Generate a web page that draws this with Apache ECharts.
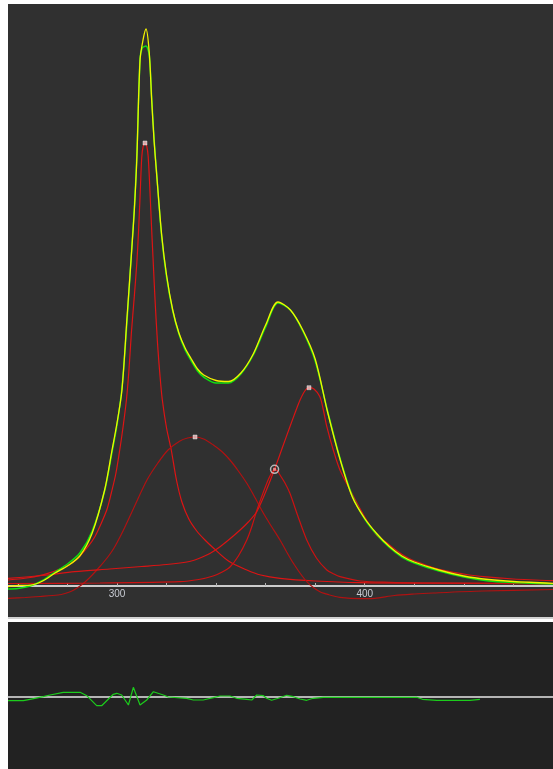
<!DOCTYPE html>
<html>
<head>
<meta charset="utf-8">
<script src="https://cdn.jsdelivr.net/npm/echarts@6/dist/echarts.min.js"></script>
<style>
  html, body { margin: 0; padding: 0; background: #ffffff; }
  #chart { width: 553px; height: 769px; }
</style>
</head>
<body>
<div id="chart"></div>
<script>
// Spectrum peak fit: measured trace, fitted sum, four components and residual.
// Points are [wavelength, intensity].

const tickValues = [260, 280, 300, 320, 340, 360, 380, 400, 420, 440, 460];
const labelValues = [300, 400];

const measured = [
  [256, -0.5], [260, 0.5], [265, 0.8], [270, 5], [275, 13], [280, 20], [285, 30],
  [290, 53], [295, 96], [298, 136], [300, 163], [302, 196], [304, 267], [306, 338],
  [307, 376], [308, 427], [309.3, 526], [310.5, 546], [311.7, 557], [313, 534],
  [314, 486], [315, 444], [316, 412], [318, 352], [320, 311], [322.5, 276],
  [325, 253], [327.5, 238], [330, 227], [332.5, 217], [335, 211], [340, 205.5],
  [345, 204.5], [350, 213], [355, 232], [360, 261], [365, 284], [370, 276], [375, 256],
  [380, 227], [385, 174], [390, 127], [395, 89], [400, 67.5], [405, 52], [410, 39.4],
  [415, 30], [420, 24], [430, 16], [440, 10], [450, 6.5], [460, 4.5], [476, 2.7]
];

const fitted = [
  [256, -3], [260, -2.5], [265, 0], [270, 5.5], [275, 14], [280, 22], [285, 33],
  [290, 55], [295, 95], [298, 134], [300, 161], [302, 198], [304, 263], [306, 340],
  [307, 378], [308, 430], [309.3, 527], [310.2, 538], [311.7, 540], [313, 531],
  [314, 488], [315, 446], [316, 413], [318, 350], [320, 309], [322.5, 275],
  [325, 252], [327.5, 236], [330, 225], [332.5, 215], [335, 209], [340, 203],
  [345, 203], [350, 212], [355, 231], [360, 259], [365, 283], [370, 276], [375, 255],
  [380, 225], [385, 175], [390, 128], [395, 90], [400, 67], [405, 51], [410, 38.5],
  [415, 29], [420, 23], [430, 15], [440, 9], [450, 5], [460, 3.5], [476, 2]
];

const peakA = [
  [256, 6], [265, 8.5], [272.1, 12.7], [277, 17], [281.6, 22.7], [285, 30], [288.3, 39.3],
  [291, 49], [293.7, 63], [296, 77], [297.7, 93], [299.5, 112], [301.1, 136],
  [302.5, 160], [303.8, 186], [304.8, 215], [305.8, 253], [307, 290], [308, 323],
  [308.7, 355], [309.3, 389], [310, 429], [310.6, 440], [311.3, 443], [312, 440],
  [312.6, 429], [313.3, 395], [314, 356], [314.7, 320], [315.3, 289], [316.3, 245],
  [317.4, 209], [318.3, 186], [320, 158], [321.9, 136], [324, 106], [326.2, 84],
  [329, 67], [332.2, 55], [335.5, 46], [338.9, 38], [345, 25], [352.4, 16], [358, 11],
  [365.8, 7.7], [380, 5], [398.1, 3.3], [430, 2.8], [476, 2.5]
];

const peakB = [
  [256, -12.3], [263, -11.5], [268.9, -10.5], [276.2, -9], [279, -7.5], [281.8, -5],
  [284.5, -1], [287.1, 4], [290, 11], [293.1, 19.5], [296, 28], [298.8, 38], [301, 48],
  [303.2, 59], [307.5, 82], [312.1, 106], [316.5, 123], [320.6, 136], [325.4, 145],
  [328.5, 148], [331.5, 149], [335, 147], [338.9, 141], [342.3, 134.5], [345.6, 126],
  [349, 115], [352.4, 102.7], [355.8, 88], [359.1, 72.7], [362.5, 59], [365.8, 46],
  [368.5, 34], [371.2, 22.7], [374, 12.5], [376.6, 4.3], [379, -1], [381.9, -5.7],
  [385.5, -8.7], [390, -11.3], [398.1, -12.7], [404, -12.3], [412, -9.5], [420, -8],
  [427.6, -7], [447.7, -5], [476, -3.5]
];

const peakC = [
  [256, 2.5], [293.1, 3], [325.4, 4.3], [333, 6.5], [338.8, 10], [342.5, 14],
  [345.6, 19], [349, 30], [352.4, 46], [354.5, 60], [356.5, 76], [358.8, 92],
  [361, 106], [362.4, 113], [363.6, 116.7], [364.8, 115], [365.8, 111], [367.8, 103],
  [369.8, 92.7], [373, 70], [376.6, 46], [380.5, 28], [384.7, 16], [387.5, 12],
  [390, 9.3], [398.1, 5], [410, 3.6], [422.3, 3], [476, 2]
];

const peakD = [
  [256, 7.7], [270, 10.5], [282.9, 14.3], [297, 17], [310, 19.5], [320, 21.5],
  [325.4, 23], [330, 25], [334, 28.5], [337.5, 32.5], [341.6, 39.3], [345.5, 47],
  [349.7, 56], [353, 64], [356.4, 74.3], [360, 94], [363.6, 116.7], [366.7, 138],
  [369.8, 159.3], [372, 174], [373.9, 186], [375.8, 195], [377.5, 198.3], [379.5, 197],
  [381.9, 189.3], [383.3, 176], [384.7, 159.3], [387.3, 136], [390, 116], [394.1, 96],
  [399.3, 72], [404.8, 51], [409.5, 42], [414.2, 33], [417.5, 28], [421, 24.3],
  [427.5, 18.5], [434.4, 14.3], [441, 11.5], [447.9, 9.3], [460, 7], [476, 5.3]
];

const peakTops = [[311.3, 443], [331.5, 149], [377.5, 198.3]];
const selectedTop = [[363.6, 116.7]];

const residual = [
  [256, -3.7], [262.2, -3.7], [264.9, -2.3], [270.2, 0.3], [273, 2], [278.3, 4.7],
  [285.1, 4.7], [287.8, 1.3], [291.8, -8.7], [293.8, -8.7], [298.5, 2.7], [299.9, 3.7],
  [301.9, 2], [304.6, -8], [306.6, 9.7], [309.3, -8], [312, -3], [314.7, 5.3],
  [318.7, 2], [320.7, 0], [328.1, -1.3], [330.8, -3], [334.8, -3], [338.9, -0.7],
  [341.6, 1], [345.6, 1], [348.3, -1.3], [352.4, -2.3], [354.4, -3], [356.4, 2],
  [359.1, 1.3], [360.4, -1.3], [362.4, -3.3], [365.1, -1.3], [368.5, 1.7], [371.2, 0.3],
  [373.9, -2], [376.6, -3.3], [379.2, -1.3], [383.3, -0.3], [421, -0.3], [423.3, -2.3],
  [429.1, -3.3], [442.5, -3.3], [446.5, -2.3]
];

const chart = echarts.init(document.getElementById('chart'), null, { renderer: 'canvas' });

function curve(name, data, color, width, z) {
  return {
    name: name, type: 'line', data: data, xAxisIndex: 0, yAxisIndex: 0,
    showSymbol: false, smooth: 0.3, z: z, silent: true,
    lineStyle: { color: color, width: width }
  };
}

chart.setOption({
  animation: false,
  backgroundColor: '#ffffff',
  grid: [
    { left: 8, top: 4, width: 545, height: 613, show: true,
      backgroundColor: '#303030', borderWidth: 0 },
    { left: 8, top: 622, width: 545, height: 147, show: true,
      backgroundColor: '#222222', borderWidth: 0 }
  ],
  xAxis: [
    // baseline axis sits at intensity 0, i.e. 31 px above the panel bottom
    { type: 'value', gridIndex: 0, min: 256, max: 476, position: 'bottom', offset: -31,
      axisLine: { show: true, onZero: false, lineStyle: { color: '#ffffff', width: 1.5 } },
      axisTick: { show: true, inside: true, length: 3, customValues: tickValues,
        lineStyle: { color: '#b4b4b4', width: 1 } },
      axisLabel: { show: true, customValues: labelValues, margin: 3,
        color: '#c9ccd4', fontSize: 10, fontFamily: 'Liberation Sans' },
      splitLine: { show: false } },
    { type: 'value', gridIndex: 1, min: 256, max: 476,
      axisLine: { show: true, onZero: true, lineStyle: { color: '#e6e6e6', width: 1.5 } },
      axisTick: { show: false }, axisLabel: { show: false }, splitLine: { show: false } }
  ],
  yAxis: [
    { type: 'value', gridIndex: 0, min: -31, max: 582, show: false, splitLine: { show: false } },
    { type: 'value', gridIndex: 1, min: -72, max: 75, show: false, splitLine: { show: false } }
  ],
  graphic: [
    { type: 'rect', shape: { x: 8, y: 617, width: 545, height: 2 },
      style: { fill: '#d2d2d2' }, z: 100 }
  ],
  series: [
    curve('A', peakA, '#dd1414', 1.2, 2),
    curve('B', peakB, '#b01212', 1.2, 2),
    curve('C', peakC, '#cc1212', 1.2, 2),
    curve('D', peakD, '#d81414', 1.2, 2),
    curve('fit', fitted, '#10e010', 1.5, 3),
    curve('measured', measured, '#f2f200', 1.3, 4),
    { name: 'tops', type: 'scatter', xAxisIndex: 0, yAxisIndex: 0, data: peakTops,
      symbol: 'rect', symbolSize: 4, z: 6, silent: true,
      itemStyle: { color: '#f2c8c8', borderColor: '#ffffff', borderWidth: 0.5 } },
    { name: 'selected', type: 'scatter', xAxisIndex: 0, yAxisIndex: 0, data: selectedTop,
      symbol: 'circle', symbolSize: 8, z: 6, silent: true,
      itemStyle: { color: 'rgba(0,0,0,0)', borderColor: '#d8d8d8', borderWidth: 1.5 } },
    { name: 'selectedCore', type: 'scatter', xAxisIndex: 0, yAxisIndex: 0, data: selectedTop,
      symbol: 'rect', symbolSize: 3, z: 7, silent: true,
      itemStyle: { color: '#ff9a9a' } },
    { name: 'residual', type: 'line', xAxisIndex: 1, yAxisIndex: 1, data: residual,
      showSymbol: false, smooth: false, z: 3, silent: true,
      lineStyle: { color: '#1ccc1c', width: 1.2 } }
  ]
});
</script>
</body>
</html>
